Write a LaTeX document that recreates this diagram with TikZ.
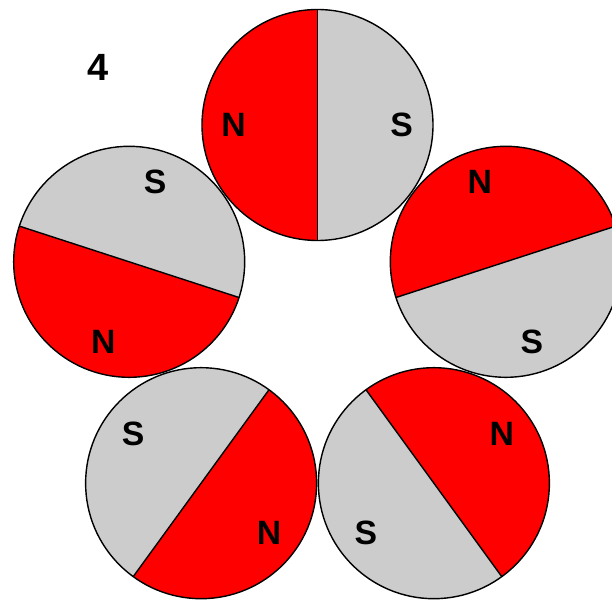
\documentclass[tikz,border=0pt]{standalone}
\usepackage{fontspec}
\setmainfont{Liberation Sans}
\definecolor{poleN}{RGB}{255,0,0}
\definecolor{poleS}{RGB}{204,204,204}

\begin{document}
\begin{tikzpicture}[
	magnet/.style={line width=1pt, draw=black},
	pole/.style={font=\fontsize{24}{28}\selectfont\bfseries, inner sep=0pt}
]
	\useasboundingbox (0,0) rectangle (15.3,14.975);
	
	% 1. 五边形中心与编号
	\coordinate (O) at (7.9375,6.9);
	\node[font=\fontsize{27}{32}\selectfont\bfseries, inner sep=0pt] (num) at (2.46,13.3) {4};
	
	% 2. 五个磁铁：N 极方向 = 位置角 + 90
	\foreach \a/\m in {90/top, 18/ur, -54/br, -126/bl, 162/ul}{
		\pgfmathsetmacro{\b}{\a+180}
		\pgfmathsetmacro{\c}{\a+360}
		\pgfmathsetmacro{\n}{\a+90}
		\pgfmathsetmacro{\s}{\a-90}
		\path (O) ++(\a:4.95) coordinate (\m);
		
		% N 半圆（红）与 S 半圆（灰）
		\fill[poleN] (\m) -- ++(\a:2.8875) arc[start angle=\a, end angle=\b, radius=2.8875] -- cycle;
		\fill[poleS] (\m) -- ++(\b:2.8875) arc[start angle=\b, end angle=\c, radius=2.8875] -- cycle;
		
		% 轮廓与分界线
		\draw[magnet] (\m) circle[radius=2.8875];
		\draw[magnet] (\m) ++(\a:2.8875) -- ++(\b:5.775);
		
		% 极性标注
		\path (\m) ++(\n:2.1) node[pole] (N\m) {N};
		\path (\m) ++(\s:2.1) node[pole] (S\m) {S};
	}
	
\end{tikzpicture}
\end{document}
